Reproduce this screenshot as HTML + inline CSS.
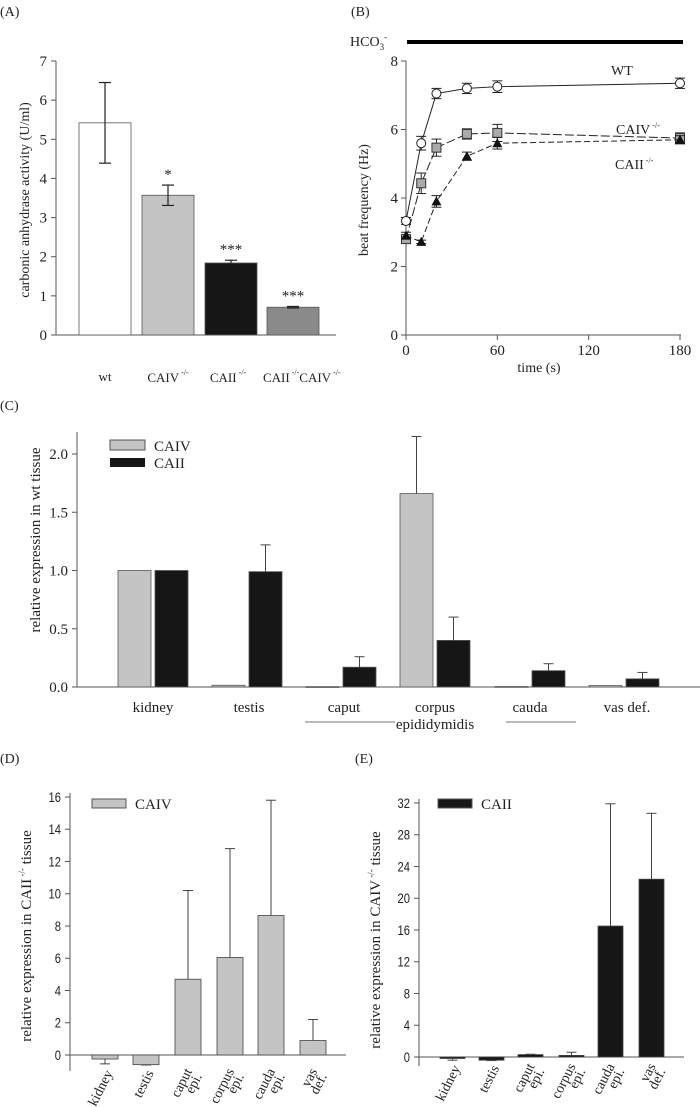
<!DOCTYPE html>
<html><head><meta charset="utf-8"><style>
html,body{margin:0;padding:0;background:#fff}
svg{display:block}
text{font-family:"Liberation Serif",serif;fill:#222}
.sans{font-family:"Liberation Sans",sans-serif}
</style></head><body>
<svg id="fig" width="700" height="1107" viewBox="0 0 700 1107" xmlns="http://www.w3.org/2000/svg">
<g id="gA"></g>
<g id="gB"></g>
<g id="gC"></g>
<g id="gD"></g>
<g id="gE"></g>
</svg>
<script>
// Panel A data
const aCategories = ["wt","CAIV","CAII","CAII CAIV"];
const aValues = [5.42, 3.57, 1.84, 0.71];
const aErrors = [1.03, 0.26, 0.07, 0.02];
const aStars = ["", "*", "***", "***"];
const aTicks = [0,1,2,3,4,5,6,7];
// Panel B data
const bTimes = [0,10,20,40,60,180];
const bWT = [3.33,5.6,7.05,7.2,7.25,7.35];
const bWTerr = [0.1,0.2,0.15,0.15,0.17,0.15];
const bCAIV = [2.8,4.43,5.47,5.87,5.9,5.75];
const bCAIVerr = [0.1,0.3,0.25,0.15,0.25,0.15];
const bCAII = [2.9,2.72,3.9,5.22,5.6,5.7];
const bCAIIerr = [0.1,0.05,0.17,0.12,0.17,0.12];
const bYTicks = [0,2,4,6,8];
const bXTicks = [0,60,120,180];
// Panel C data
const cCategories = ["kidney","testis","caput","corpus","cauda","vas def."];
const cCAIV = [1,0.015,0.003,1.66,0.004,0.012];
const cCAIVerr = [0,0.005,0,0.49,0,0];
const cCAII = [1,0.99,0.17,0.40,0.14,0.07];
const cCAIIerr = [0,0.23,0.09,0.20,0.06,0.055];
const cTicks = [0,0.5,1,1.5,2];
const cTickLabels = ["0.0","0.5","1.0","1.5","2.0"];
// Panel D data
const dCategories = [["kidney"],["testis"],["caput","epi."],["corpus","epi."],["cauda","epi."],["vas","def."]];
const dValues = [-0.25,-0.6,4.7,6.05,8.65,0.9];
const dErrors = [0.3,0.02,5.5,6.75,7.15,1.3];
const dTicks = [0,2,4,6,8,10,12,14,16];
// Panel E data
const eValues = [-0.1,-0.4,0.3,0.2,16.5,22.4];
const eErrors = [0.3,0.05,0.05,0.4,15.4,8.3];
const eTicks = [0,4,8,12,16,20,24,28,32];

const NS="http://www.w3.org/2000/svg";
function mk(parent,tag,attrs,txt){const e=document.createElementNS(NS,tag);for(const k in attrs)e.setAttribute(k,attrs[k]);if(txt!==undefined)e.textContent=txt;parent.appendChild(e);return e;}
const AX="#555";

// ---------- Panel A ----------
(function(){
const g=document.getElementById('gA');
const y=v=>335-v*(274/7);
const bx=[79,142,205,267], bw=52;
const fills=["#ffffff","#c4c4c4","#161616","#8a8a8a"];
let t=mk(g,'text',{x:0,y:16,'font-size':14},'(A)');


mk(g,'line',{x1:56,y1:61,x2:56,y2:335,stroke:AX,'stroke-width':1});
mk(g,'line',{x1:56,y1:335,x2:336,y2:335,stroke:AX,'stroke-width':1});
aTicks.forEach(v=>{mk(g,'line',{x1:51,y1:y(v),x2:56,y2:y(v),stroke:AX});
 t=mk(g,'text',{x:47,y:y(v)+5,'font-size':15,'text-anchor':'end'},v);
 
 });
aValues.forEach((v,i)=>{
 const r=mk(g,'rect',{x:bx[i],y:y(v),width:bw,height:y(0)-y(v),fill:fills[i],stroke:'#555','stroke-width':0.8});
 
 
 const cx=bx[i]+bw/2, lo=i==2?v:v-aErrors[i], hi=v+aErrors[i];
 mk(g,'line',{x1:cx,y1:y(lo),x2:cx,y2:y(hi),stroke:'#222','stroke-width':1.2});
 mk(g,'line',{x1:cx-6,y1:y(hi),x2:cx+6,y2:y(hi),stroke:'#222','stroke-width':1.2});
 if(i!=2)mk(g,'line',{x1:cx-6,y1:y(lo),x2:cx+6,y2:y(lo),stroke:'#222','stroke-width':1.2});
 if(aStars[i]){t=mk(g,'text',{x:cx,y:y(hi)-6,'font-size':15,'text-anchor':'middle',fill:'#444'},aStars[i]);
  
  }
});
t=mk(g,'text',{x:105,y:381,'font-size':13,'text-anchor':'middle'},'wt');


const xl=[[168,'CAIV'],[228,'CAII']];
xl.forEach(([x,s])=>{t=mk(g,'text',{x:x,y:382,'font-size':13,'text-anchor':'middle'});
 
 
 t.innerHTML=s+'<tspan dy="-7" font-size="8"> -/-</tspan>';});
t=mk(g,'text',{x:263,y:382,'font-size':13});


t.innerHTML='CAII<tspan dy="-7" font-size="8"> -/-</tspan><tspan dy="7">CAIV</tspan><tspan dy="-7" font-size="8"> -/-</tspan>';
t=mk(g,'text',{x:0,y:0,'font-size':14,'text-anchor':'middle',transform:'translate(29,200) rotate(-90)'},'carbonic anhydrase activity (U/ml)');


})();

// ---------- Panel B ----------
(function(){
const g=document.getElementById('gB');
const x=v=>406+v*(274/180), y=v=>335-v*(274/8);
let t=mk(g,'text',{x:351,y:16,'font-size':14},'(B)');


const hb=mk(g,'line',{x1:407,y1:42,x2:683,y2:42,stroke:'#000','stroke-width':4});


t=mk(g,'text',{x:350,y:46,'font-size':14});


t.innerHTML='HCO<tspan dy="4" font-size="9">3</tspan><tspan dy="-10" font-size="9">-</tspan>';
mk(g,'line',{x1:406,y1:61,x2:406,y2:335,stroke:AX});
mk(g,'line',{x1:406,y1:335,x2:681,y2:335,stroke:AX});
bYTicks.forEach(v=>{mk(g,'line',{x1:401,y1:y(v),x2:406,y2:y(v),stroke:AX});
 t=mk(g,'text',{x:398,y:y(v)+5,'font-size':15,'text-anchor':'end'},v);
 
 });
bXTicks.forEach(v=>{mk(g,'line',{x1:x(v),y1:335,x2:x(v),y2:340,stroke:AX});
 t=mk(g,'text',{x:x(v),y:355,'font-size':15,'text-anchor':'middle'},v);
 
 });
t=mk(g,'text',{x:539,y:372,'font-size':14,'text-anchor':'middle'},'time (s)');


t=mk(g,'text',{x:0,y:0,'font-size':14,'text-anchor':'middle',transform:'translate(368,200) rotate(-90)'},'beat frequency (Hz)');


function series(vals,errs,name,dash,marker){
 const pts=bTimes.map((tt,i)=>x(tt)+','+y(vals[i])).join(' ');
 const pl=mk(g,'polyline',{points:pts,fill:'none',stroke:'#222','stroke-width':1,'stroke-dasharray':dash});
 
 
 bTimes.forEach((tt,i)=>{const cx=x(tt),cy=y(vals[i]),e=errs[i];
  mk(g,'line',{x1:cx,y1:y(vals[i]-e),x2:cx,y2:y(vals[i]+e),stroke:'#222'});
  mk(g,'line',{x1:cx-5,y1:y(vals[i]-e),x2:cx+5,y2:y(vals[i]-e),stroke:'#222'});
  mk(g,'line',{x1:cx-5,y1:y(vals[i]+e),x2:cx+5,y2:y(vals[i]+e),stroke:'#222'});
  let m;
  if(marker=='circle')m=mk(g,'circle',{cx:cx,cy:cy,r:4.5,fill:'#fff',stroke:'#222'});
  else if(marker=='square')m=mk(g,'rect',{x:cx-4.5,y:cy-4.5,width:9,height:9,fill:'#aaa',stroke:'#333'});
  else m=mk(g,'polygon',{points:`${cx},${cy-5} ${cx-5},${cy+4} ${cx+5},${cy+4}`,fill:'#111'});
  
  });
}
series(bWT,bWTerr,'wt','','circle');
series(bCAIV,bCAIVerr,'caiv','9,3','square');
series(bCAII,bCAIIerr,'caii','6,3','triangle');
t=mk(g,'text',{x:611,y:75,'font-size':14},'WT');


t=mk(g,'text',{x:616,y:134,'font-size':14});


t.innerHTML='CAIV<tspan dy="-6" font-size="8"> -/-</tspan>';
t=mk(g,'text',{x:615,y:169,'font-size':14});


t.innerHTML='CAII<tspan dy="-6" font-size="8"> -/-</tspan>';
})();

// ---------- Panel C ----------
(function(){
const g=document.getElementById('gC');
const y=v=>687-v*(233/2);
const x0=[118,212,306,400,495,589], bw=33, gap=37;
let t=mk(g,'text',{x:0,y:410,'font-size':14},'(C)');


mk(g,'line',{x1:77,y1:432,x2:77,y2:687,stroke:AX});
mk(g,'line',{x1:77,y1:687,x2:700,y2:687,stroke:AX});
cTicks.forEach((v,i)=>{mk(g,'line',{x1:72,y1:y(v),x2:77,y2:y(v),stroke:AX});
 t=mk(g,'text',{x:68,y:y(v)+5,'font-size':15,'text-anchor':'end'},cTickLabels[i]);
 
 });
function bars(vals,errs,off,fill,name){vals.forEach((v,i)=>{
 const bx=x0[i]+off;
 const r=mk(g,'rect',{x:bx,y:y(v),width:bw,height:Math.max(0.8,y(0)-y(v)),fill:fill,stroke:'#555','stroke-width':0.8});
 
 
 if(errs[i]>0.01){const cx=bx+bw/2;
  mk(g,'line',{x1:cx,y1:y(v),x2:cx,y2:y(v+errs[i]),stroke:'#444'});
  mk(g,'line',{x1:cx-5,y1:y(v+errs[i]),x2:cx+5,y2:y(v+errs[i]),stroke:'#444'});}
});}
bars(cCAIV,cCAIVerr,0,'#c4c4c4','caiv');
bars(cCAII,cCAIIerr,gap,'#161616','caii');
const lc=mk(g,'rect',{x:110,y:440,width:35,height:10,fill:'#c4c4c4',stroke:'#555'});


const ld=mk(g,'rect',{x:110,y:458,width:35,height:9,fill:'#161616'});


t=mk(g,'text',{x:154,y:451,'font-size':15},'CAIV');


t=mk(g,'text',{x:154,y:468,'font-size':15},'CAII');


const lx=[153,249,344,435,530,627];
cCategories.forEach((c,i)=>{t=mk(g,'text',{x:lx[i],y:712,'font-size':15,'text-anchor':'middle'},c);
 
 });
t=mk(g,'text',{x:435,y:729,'font-size':15,'text-anchor':'middle'},'epididymidis');


mk(g,'line',{x1:305,y1:722,x2:395,y2:722,stroke:'#777'});
mk(g,'line',{x1:506,y1:722,x2:576,y2:722,stroke:'#777'});
t=mk(g,'text',{x:0,y:0,'font-size':15,'text-anchor':'middle',transform:'translate(40,540) rotate(-90)'},'relative expression in wt tissue');


})();

// ---------- Panels D, E ----------
function lowerPanel(gid,label,lx,axX,y0,yTop,maxV,ticks,vals,errs,bars,bw,fill,legTxt,legX,axRight,axBottom,titleHtml,titleX){
 const g=document.getElementById(gid);
 const y=v=>y0-v*((y0-yTop)/maxV);
 let t=mk(g,'text',{x:lx,y:763,'font-size':14},label);
 
 
 mk(g,'line',{x1:axX,y1:yTop-4,x2:axX,y2:axBottom,stroke:AX});
 mk(g,'line',{x1:axX,y1:y0,x2:axRight,y2:y0,stroke:AX});
 ticks.forEach(v=>{mk(g,'line',{x1:axX-5,y1:y(v),x2:axX,y2:y(v),stroke:AX});
  t=mk(g,'text',{x:axX-9,y:y(v)+5,'font-size':14,'text-anchor':'end','class':'sans',transform:`translate(${axX-9},0) scale(0.8,1) translate(${-(axX-9)},0)`},v);
  
  });
 vals.forEach((v,i)=>{
  const bx=bars[i];
  const r=mk(g,'rect',{x:bx,y:Math.min(y(v),y0),width:bw,height:Math.max(1.5,Math.abs(y(0)-y(v))),fill:fill,stroke:'#444','stroke-width':0.8});
  
  
  const cx=bx+bw/2, e=v+(v<0?-errs[i]:errs[i]);
  mk(g,'line',{x1:cx,y1:y(v),x2:cx,y2:y(e),stroke:'#444'});
  mk(g,'line',{x1:cx-5,y1:y(e),x2:cx+5,y2:y(e),stroke:'#444'});
 });
 const sw=mk(g,'rect',{x:legX,y:799,width:34,height:9,fill:fill,stroke:'#555'});
 
 
 t=mk(g,'text',{x:legX+43,y:809,'font-size':15},legTxt);
 
 
 t=mk(g,'text',{x:0,y:0,'font-size':15,'text-anchor':'middle',transform:`translate(${titleX},${(y0+yTop)/2+10}) rotate(-90)`});
 
 
 t.innerHTML=titleHtml;
 dCategories.forEach((c,i)=>{const cx=bars[i]+bw/2+8;
  t=mk(g,'text',{x:0,y:0,'font-size':14,'text-anchor':'end',transform:`translate(${cx},${axBottom+2}) rotate(-63)`});
  
  
  if(c.length==1)t.textContent=c[0];
  else t.innerHTML=`<tspan x="0" dy="-4">${c[0]}</tspan><tspan x="0" dy="11">${c[1]}</tspan>`;
 });
}
lowerPanel('gD','(D)',0,70,1055,797,16,dTicks,dValues,dErrors,[92,133,175,217,258,300],26,'#c4c4c4','CAIV',92,346,1071,
 'relative expression in CAII<tspan dy="-6" font-size="9"> -/-</tspan><tspan dy="6"> tissue</tspan>',31);
lowerPanel('gE','(E)',355,419,1057,803,32,eTicks,eValues,eErrors,[440,479,518,559,598,639],25,'#161616','CAII',438,684,1066,
 'relative expression in CAIV<tspan dy="-6" font-size="9"> -/-</tspan><tspan dy="6"> tissue</tspan>',380);
</script>
</body></html>
